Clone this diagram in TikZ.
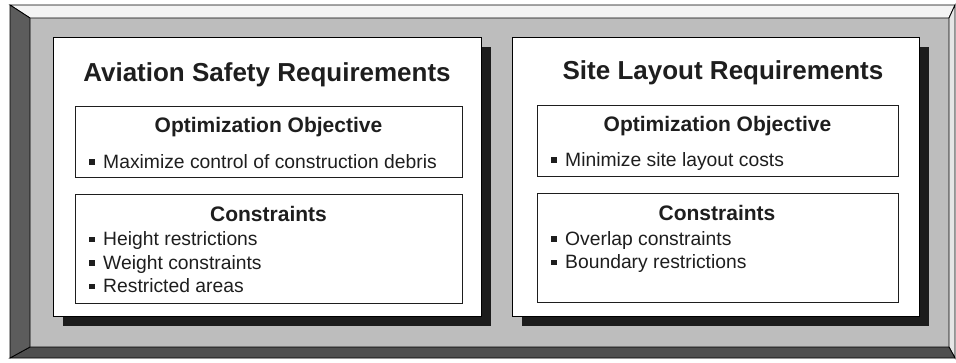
\documentclass[tikz,border=0pt]{standalone}
\usepackage{fontspec}
\setmainfont{Liberation Sans}
\definecolor{panelgray}{HTML}{BDBDBD}
\definecolor{bevtop}{HTML}{F4F4F4}
\definecolor{bevright}{HTML}{E6E6E6}
\definecolor{bevleft}{HTML}{5C5C5C}
\definecolor{bevbottom}{HTML}{4E4E4E}
\definecolor{shadowc}{HTML}{1C1C1C}
\definecolor{inkc}{HTML}{1E1E1E}
\tikzset{
  titletext/.style={inner sep=0pt, anchor=base, text=inkc, font=\fontsize{26}{30}\selectfont\bfseries},
  headtext/.style={inner sep=0pt, anchor=base, text=inkc, font=\fontsize{21}{25}\selectfont\bfseries},
  itemtext/.style={inner sep=0pt, anchor=base west, text=inkc, font=\fontsize{19.3}{23}\selectfont},
  whitebox/.style={fill=white, draw=black, line width=0.9pt},
  innerbox/.style={draw=inkc, line width=1pt},
  bevedge/.style={draw=black, line width=0.8pt}
}
\newcommand{\bul}{\raisebox{3.5pt}{\rule{5.5pt}{5.5pt}}\hspace{8.5pt}}
\begin{document}
\begin{tikzpicture}[x=1pt,y=-1pt]
\useasboundingbox (0,0) rectangle (956,362);
\fill[white] (0,0) rectangle (956,362);
% bevel frame
\coordinate (o1) at (10,5); \coordinate (o2) at (955,5);
\coordinate (o3) at (955,358); \coordinate (o4) at (10,358);
\coordinate (i1) at (30,18); \coordinate (i2) at (949,18);
\coordinate (i3) at (949,347); \coordinate (i4) at (30,347);
\fill[panelgray] (i1) rectangle (i3);
\filldraw[fill=bevtop, bevedge] (o1) -- (o2) -- (i2) -- (i1) -- cycle;
\filldraw[fill=bevright, bevedge] (o2) -- (o3) -- (i3) -- (i2) -- cycle;
\filldraw[fill=bevbottom, bevedge] (o4) -- (o3) -- (i3) -- (i4) -- cycle;
\filldraw[fill=bevleft, bevedge] (o1) -- (o4) -- (i4) -- (i1) -- cycle;
% shadows
\fill[shadowc] (63,47) rectangle (491,326);
\fill[shadowc] (522,47) rectangle (929,326);
% white panels
\draw[whitebox] (53,37) rectangle (481,316);
\draw[whitebox] (512,37) rectangle (919,316);
% inner boxes
\draw[innerbox] (75,106) rectangle (462,177);
\draw[innerbox] (75,194) rectangle (462,303);
\draw[innerbox] (537,105) rectangle (898,176);
\draw[innerbox] (537,193) rectangle (898,302);
% left panel texts
\node[titletext] (ltitle) at (267,81.5) {Aviation Safety Requirements};
\node[headtext] (lobj) at (268.5,132.8) {Optimization Objective};
\node[itemtext] (lobj1) at (89,168) {\bul Maximize control of construction debris};
\node[headtext] (lcon) at (268.5,221.7) {Constraints};
\node[itemtext] (lcon1) at (89,245.7) {\bul Height restrictions};
\node[itemtext] (lcon2) at (89,269.3) {\bul Weight constraints};
\node[itemtext] (lcon3) at (89,292.7) {\bul Restricted areas};
% right panel texts
\node[titletext] (rtitle) at (723,79) {Site Layout Requirements};
\node[headtext] (robj) at (717.5,131.7) {Optimization Objective};
\node[itemtext] (robj1) at (551,166) {\bul Minimize site layout costs};
\node[headtext] (rcon) at (717,220.5) {Constraints};
\node[itemtext] (rcon1) at (551,245) {\bul Overlap constraints};
\node[itemtext] (rcon2) at (551,268.5) {\bul Boundary restrictions};
\end{tikzpicture}
\end{document}
